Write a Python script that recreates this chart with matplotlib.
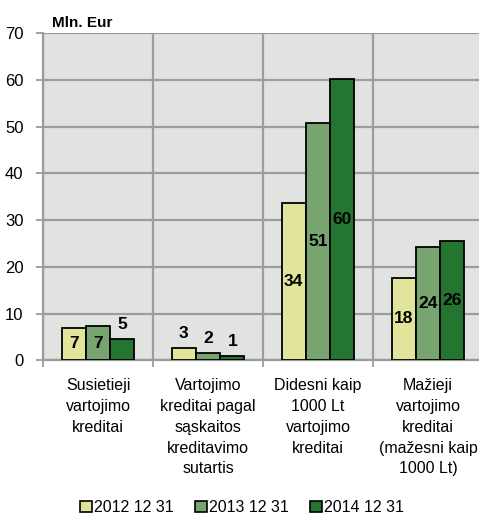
import matplotlib
matplotlib.use('Agg')
import matplotlib.pyplot as plt
import numpy as np
from matplotlib.patches import Patch

categories = [
    'Susietieji\nvartojimo\nkreditai',
    'Vartojimo\nkreditai pagal\nsąskaitos\nkreditavimo\nsutartis',
    'Didesni kaip\n1000 Lt\nvartojimo\nkreditai',
    'Mažieji\nvartojimo\nkreditai\n(mažesni kaip\n1000 Lt)',
]
series_names = ['2012 12 31', '2013 12 31', '2014 12 31']
values_2012 = [7.0, 2.6, 33.6, 17.7]
values_2013 = [7.4, 1.5, 50.7, 24.3]
values_2014 = [4.6, 0.9, 60.2, 25.5]
labels_2012 = ['7', '3', '34', '18']
labels_2013 = ['7', '2', '51', '24']
labels_2014 = ['5', '1', '60', '26']

colors = ['#E0E59B', '#77A46F', '#237530']
bg_color = '#E0E3E0'
grid_color = '#9C9C9C'

plt.rcParams['font.family'] = ['Liberation Sans', 'DejaVu Sans']

fig = plt.figure(figsize=(4.79, 5.19), dpi=100)
ax = fig.add_axes([43 / 479, 1 - 360.3 / 519, 440 / 479, 327 / 519])
ax.set_facecolor(bg_color)

x = np.arange(len(categories))
width = 0.221
series = [values_2012, values_2013, values_2014]
labels = [labels_2012, labels_2013, labels_2014]

for k, (vals, labs) in enumerate(zip(series, labels)):
    pos = x + (k - 1) * width
    ax.bar(pos, vals, width, color=colors[k], edgecolor='black', linewidth=1.3, zorder=3)
    for px, v, t in zip(pos, vals, labs):
        if v >= 6:
            ax.text(px, v / 2, t, ha='center', va='center', fontsize=12.5,
                    fontweight='bold', zorder=4)
        else:
            ax.annotate(t, (px, v), xytext=(0, 5), textcoords='offset points',
                        ha='center', va='bottom', fontsize=12.5, fontweight='bold',
                        zorder=4)

ax.set_xlim(-0.5, len(categories) - 0.5)
ax.set_ylim(0, 70)
ax.set_yticks(range(0, 71, 10))
ax.set_xticks(np.arange(-0.5, len(categories), 1.0))
ax.set_xticklabels([])
ax.grid(True, color=grid_color, linewidth=1.6, zorder=1)
ax.tick_params(axis='y', length=5, width=1.3, color=grid_color, pad=9, labelsize=12)
ax.tick_params(axis='x', length=5, width=1.3, color=grid_color)
for side in ['top', 'right']:
    ax.spines[side].set_visible(False)
for side in ['left', 'bottom']:
    ax.spines[side].set_color(grid_color)
    ax.spines[side].set_linewidth(1.6)

# category names sit under the axis, one block per group
for i, c in enumerate(categories):
    ax.annotate(c, (i, 0), xycoords=('data', 'axes fraction'), xytext=(0, -13),
                textcoords='offset points', ha='center', va='top', fontsize=11.5,
                linespacing=1.48)

fig.text(52 / 479, 1 - 27 / 519, 'Mln. Eur', fontsize=11, fontweight='bold',
         ha='left', va='baseline')

handles = [Patch(facecolor=c, edgecolor='black', linewidth=1.2) for c in colors]
fig.legend(handles, series_names, loc='lower center', bbox_to_anchor=(0.505, -0.02),
           ncol=3, frameon=False, fontsize=11.5, handlelength=0.75, handleheight=0.75,
           handletextpad=0.15, columnspacing=1.3)

fig.savefig('out.png', dpi=100)
